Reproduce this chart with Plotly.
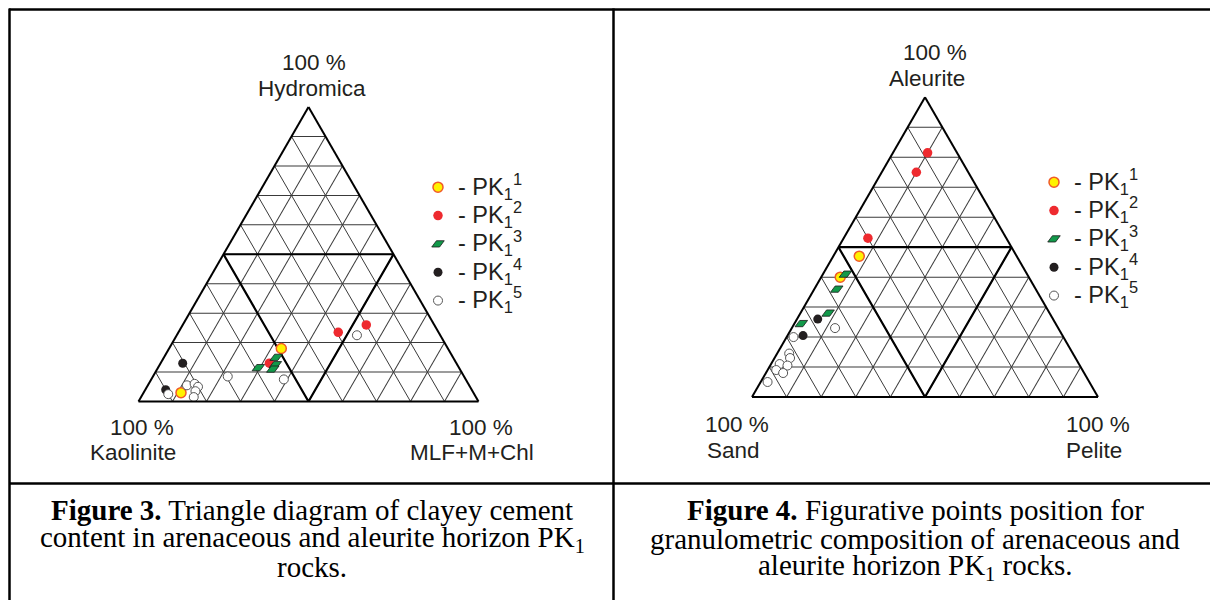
import plotly.graph_objects as go
import math

W, H = 1210, 600

# ---------------- data (percent) ----------------
# Figure 3: a = Hydromica, b = Kaolinite, c = MLF+M+Chl
f3_pk1_a = [18, 3];            f3_pk1_b = [49, 86];            f3_pk1_c = [33, 11]
f3_pk2_a = [23.5, 26, 13];     f3_pk2_b = [29.5, 20, 55];      f3_pk2_c = [47, 54, 32]
f3_pk3_a = [11.5, 15, 12.5, 11]; f3_pk3_b = [59, 52, 53.5, 55]; f3_pk3_c = [29.5, 33, 34, 34]
f3_pk4_a = [13, 4];            f3_pk4_b = [80.5, 90];          f3_pk4_c = [6.5, 6]
f3_pk5_a = [22.5, 8.5, 7.5, 2.5, 5.5, 6, 5, 3.5, 1.5]
f3_pk5_b = [24.5, 69.5, 53.5, 90, 83, 80.5, 80, 81.5, 83]
f3_pk5_c = [53, 22, 39, 7.5, 11.5, 13.5, 15, 15, 15.5]

# Figure 4: a = Aleurite, b = Sand, c = Pelite
f4_pk1_a = [47, 40];           f4_pk1_b = [45.5, 54.5];        f4_pk1_c = [7.5, 5.5]
f4_pk2_a = [81.5, 75, 53];     f4_pk2_b = [8.5, 15, 40];       f4_pk2_c = [10, 10, 7]
f4_pk3_a = [41, 36, 28, 24.5]; f4_pk3_b = [52.5, 57.5, 64, 73.5]; f4_pk3_c = [6.5, 6.5, 8, 2]
f4_pk4_a = [26, 20.5];         f4_pk4_b = [68, 75];            f4_pk4_c = [6, 4.5]
f4_pk5_a = [23, 20, 14.5, 13, 11, 10.5, 9, 8, 5]
f4_pk5_b = [64.5, 78, 82, 82.5, 86.5, 84.5, 88.5, 87, 93]
f4_pk5_c = [12.5, 2, 3.5, 4.5, 2.5, 5, 2.5, 5, 2]

# medial (50 %) division lines
mid_a = [50, 50, 0, 50]
mid_b = [50, 0, 50, 50]
mid_c = [0, 50, 50, 0]

series_numbers = ["1", "2", "3", "4", "5"]

caption3_lines = ["<b>Figure 3.</b> Triangle diagram of clayey cement",
                  "content in arenaceous and aleurite horizon PK<sub>1</sub>",
                  "rocks."]
caption4_lines = ["<b>Figure 4.</b> Figurative points position for",
                  "granulometric composition of arenaceous and",
                  "aleurite horizon PK<sub>1</sub> rocks."]

styles = [
    dict(symbol="circle", size=10, color="#FFF200", line=dict(color="#F05A28", width=1.5)),
    dict(symbol="circle", size=9.5, color="#EE2A2F", line=dict(color="#EE2A2F", width=0)),
    dict(symbol="diamond-wide", size=10, angle=-26.6, color="#12994A", line=dict(color="#1a1a1a", width=0.8)),
    dict(symbol="circle", size=9, color="#231F20", line=dict(color="#231F20", width=0)),
    dict(symbol="circle", size=9, color="#FFFFFF", line=dict(color="#555555", width=1)),
]

f3_sets = [(f3_pk1_a, f3_pk1_b, f3_pk1_c), (f3_pk2_a, f3_pk2_b, f3_pk2_c),
           (f3_pk3_a, f3_pk3_b, f3_pk3_c), (f3_pk4_a, f3_pk4_b, f3_pk4_c),
           (f3_pk5_a, f3_pk5_b, f3_pk5_c)]
f4_sets = [(f4_pk1_a, f4_pk1_b, f4_pk1_c), (f4_pk2_a, f4_pk2_b, f4_pk2_c),
           (f4_pk3_a, f4_pk3_b, f4_pk3_c), (f4_pk4_a, f4_pk4_b, f4_pk4_c),
           (f4_pk5_a, f4_pk5_b, f4_pk5_c)]

def legend_label(n):
    return ('<span style="font-size:23.5px">- PK<sub>1</sub><sup>' + n + '</sup></span>')

fig = go.Figure()

for sub, sets, leg in [("ternary", f3_sets, "legend"), ("ternary2", f4_sets, "legend2")]:
    fig.add_trace(go.Scatterternary(a=mid_a, b=mid_b, c=mid_c, mode="lines",
                                    line=dict(color="black", width=2.2),
                                    subplot=sub, showlegend=False, hoverinfo="skip"))
    for (a, b, c), st, n in zip(sets, styles, series_numbers):
        fig.add_trace(go.Scatterternary(a=a, b=b, c=c, mode="markers", marker=st,
                                        name=legend_label(n), subplot=sub, legend=leg))

# ---------------- layout helpers ----------------
def px_x(x):
    return x / W

def px_y(y):
    return 1 - y / H

def tern_domain(x0, x1, base_y):
    w = x1 - x0
    h = w * math.sqrt(3) / 2
    return dict(x=[px_x(x0), px_x(x1)], y=[px_y(base_y), px_y(base_y - h)])

axis_style = dict(showticklabels=False, ticks="", showgrid=True, gridcolor="#3a3a3a",
                  gridwidth=1, linecolor="black", linewidth=2, dtick=10, tick0=0,
                  title=dict(text=""))

tern_common = dict(sum=100, bgcolor="white",
                   aaxis=axis_style, baxis=axis_style, caxis=axis_style)

label_font = dict(family="Liberation Sans, Arial, sans-serif", size=22.5, color="#231F20")
caption_font = dict(family="Liberation Serif, Times New Roman, serif", size=29, color="black")

annotations = []
def lab(text, x, y):
    annotations.append(dict(text=text, x=px_x(x), y=px_y(y), xref="paper", yref="paper",
                            showarrow=False, xanchor="center", yanchor="middle", font=label_font))

lab("100 %", 314, 63); lab("Hydromica", 312, 88)
lab("100 %", 142, 427); lab("Kaolinite", 133, 452)
lab("100 %", 481, 427); lab("MLF+M+Chl", 472, 452)
lab("100 %", 935, 52); lab("Aleurite", 927, 79)
lab("100 %", 737, 424); lab("Sand", 733, 450)
lab("100 %", 1098, 424); lab("Pelite", 1094, 450)

for lines, cx in [(caption3_lines, 312), (caption4_lines, 915)]:
    for i, t in enumerate(lines):
        annotations.append(dict(text=t, x=px_x(cx), y=px_y(510 + 28.5 * i), xref="paper", yref="paper",
                                showarrow=False, xanchor="center", yanchor="middle",
                                font=caption_font))

line_st = dict(color="black", width=2.5)
shapes = [
    dict(type="line", xref="paper", yref="paper", x0=px_x(9), x1=px_x(1212), y0=px_y(9.5), y1=px_y(9.5), line=line_st),
    dict(type="line", xref="paper", yref="paper", x0=px_x(9.5), x1=px_x(9.5), y0=px_y(8.5), y1=px_y(602), line=line_st),
    dict(type="line", xref="paper", yref="paper", x0=px_x(613.5), x1=px_x(613.5), y0=px_y(8.5), y1=px_y(602), line=line_st),
    dict(type="line", xref="paper", yref="paper", x0=px_x(9), x1=px_x(1212), y0=px_y(483.5), y1=px_y(483.5), line=line_st),
]

legend_common = dict(font=dict(family="Liberation Sans, Arial, sans-serif", size=19.5, color="#231F20"),
                     bgcolor="rgba(0,0,0,0)", borderwidth=0, xanchor="left", yanchor="top",
                     tracegroupgap=0, itemclick=False, itemdoubleclick=False)

fig.update_layout(
    width=W, height=H, margin=dict(l=0, r=0, t=0, b=0),
    paper_bgcolor="white", plot_bgcolor="white",
    ternary=dict(domain=tern_domain(138.5, 478.5, 401.5), **tern_common),
    ternary2=dict(domain=tern_domain(752, 1098, 397), **tern_common),
    legend=dict(x=px_x(418), y=px_y(168), **legend_common),
    legend2=dict(x=px_x(1034), y=px_y(163), **legend_common),
    annotations=annotations, shapes=shapes,
)

fig.write_html("out.html", config={"displayModeBar": False},
               post_script="document.body.style.margin='0';document.body.style.overflow='hidden';")
